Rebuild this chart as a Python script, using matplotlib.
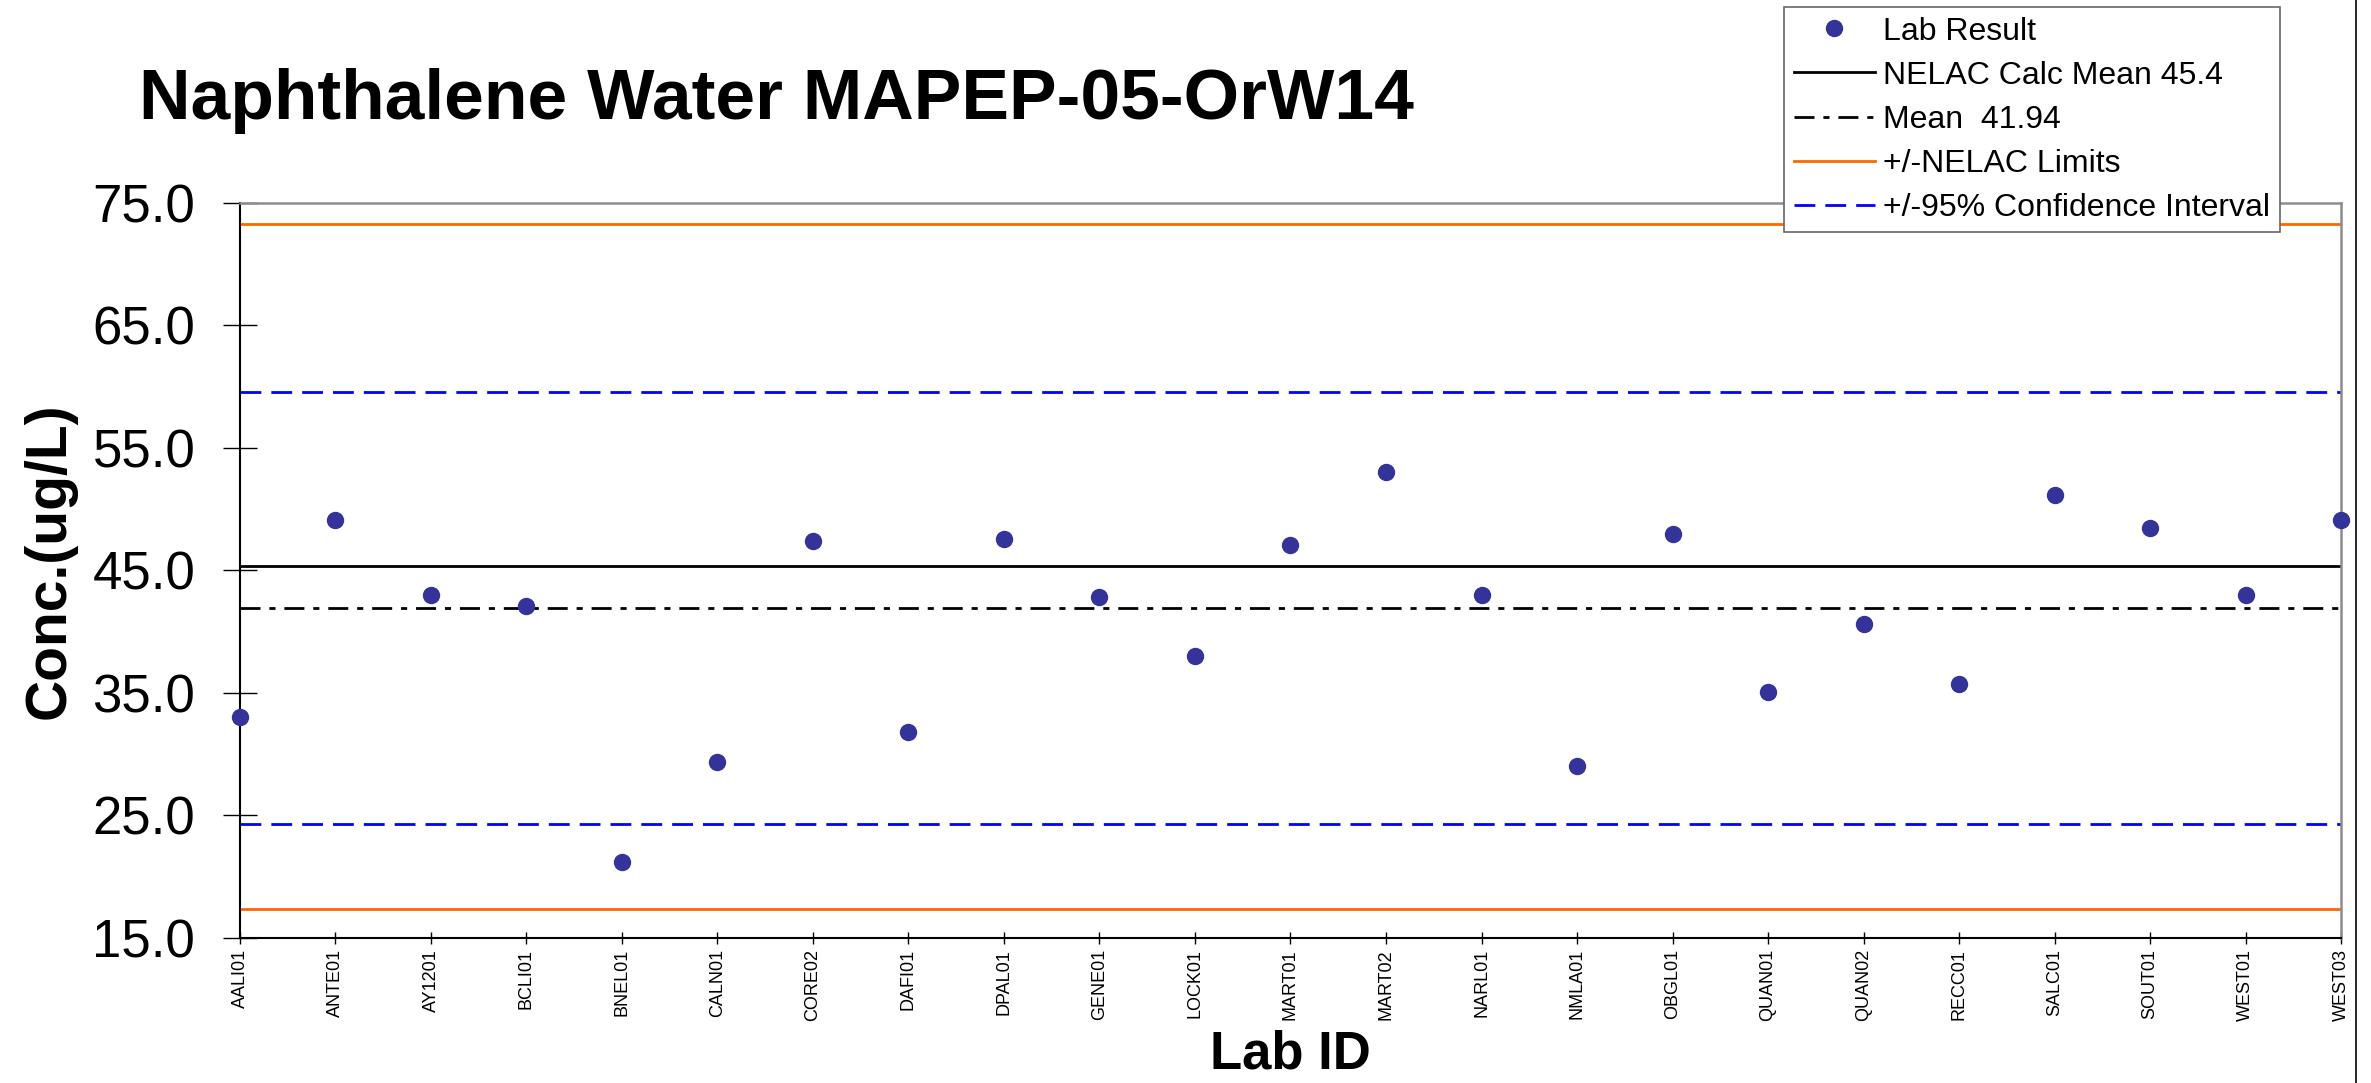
import matplotlib.pyplot as plt
from matplotlib.lines import Line2D

# Datos
lab_ids = ["AALI01", "ANTE01", "AY1201", "BCLI01", "BNEL01", "CALN01",
           "CORE02", "DAFI01", "DPAL01", "GENE01", "LOCK01", "MART01",
           "MART02", "NARL01", "NMLA01", "OBGL01", "QUAN01", "QUAN02",
           "RECC01", "SALC01", "SOUT01", "WEST01", "WEST03"]
lab_results = [33.0, 49.1, 43.0, 42.1, 21.2, 29.4,
               47.4, 31.8, 47.6, 42.8, 38.0, 47.1,
               53.0, 43.0, 29.0, 48.0, 35.1, 40.6,
               35.7, 51.2, 48.5, 43.0, 49.1]
nelac_mean = 45.4
mean_value = 41.94
nelac_limits = [17.4, 73.3]
confidence_limits = [24.34, 59.54]
y_ticks = [15, 25, 35, 45, 55, 65, 75]

parameters = {
    "title": "Naphthalene Water MAPEP-05-OrW14",
    "marker color": "#333399",
    "orange": "#ff6600",
    "blue": "#0000ff",
    "frame gray": "#8c8c8c",
    "marker size": 11.5,
}

plt.rcParams["font.family"] = ["Liberation Sans", "DejaVu Sans"]

fig = plt.figure(figsize=(23.71, 10.83), dpi=100)
ax = fig.add_axes([0.10122, 0.13389, 0.88613, 0.67867])
positions = list(range(len(lab_ids)))

# lineas de referencia
ax.axhline(nelac_limits[0], color=parameters["orange"], lw=2, zorder=2)
ax.axhline(nelac_limits[1], color=parameters["orange"], lw=2, zorder=2)
ax.axhline(confidence_limits[0], color=parameters["blue"], lw=2,
           ls=(0, (7.5, 3.6)), zorder=2)
ax.axhline(confidence_limits[1], color=parameters["blue"], lw=2,
           ls=(0, (7.5, 3.6)), zorder=2)
ax.axhline(nelac_mean, color="black", lw=2, zorder=2)
ax.axhline(mean_value, color="black", lw=2,
           ls=(0, (7.2, 3.2, 2.2, 3.2)), zorder=2)
ax.plot(positions, lab_results, ls="none", marker="o",
        ms=parameters["marker size"],
        color=parameters["marker color"], mec=parameters["marker color"],
        zorder=4, clip_on=False)

ax.set_xlim(0, len(lab_ids) - 1)
ax.set_ylim(15, 75)
ax.set_yticks(y_ticks)
ax.set_yticklabels(["{:.1f}".format(tick) for tick in y_ticks], fontsize=38)
ax.set_xticks(positions)
ax.set_xticklabels(lab_ids, rotation=90, fontsize=13,
                   family=["Liberation Sans Narrow", "Liberation Sans"])
ax.tick_params(axis="y", direction="inout", length=24.5, width=1,
               pad=20)
ax.tick_params(axis="x", direction="inout", length=8, width=1, pad=4)

for side in ["top", "right"]:
    ax.spines[side].set_color(parameters["frame gray"])
    ax.spines[side].set_linewidth(1.8)
for side in ["left", "bottom"]:
    ax.spines[side].set_color("black")
    ax.spines[side].set_linewidth(1.5)

ax.set_ylabel("Conc.(ug/L)", fontsize=41, fontweight="bold", va="center")
ax.yaxis.set_label_coords(-0.0904, 0.514)
ax.set_xlabel("Lab ID", fontsize=38, fontweight="bold", va="center")
ax.xaxis.set_label_coords(0.5, -0.158)

fig.text(139 / 2371, 1 - 101 / 1083, parameters["title"], fontsize=51.4,
         fontweight="bold", ha="left", va="center")

handles = [
    Line2D([], [], ls="none", marker="o", ms=parameters["marker size"],
           color=parameters["marker color"]),
    Line2D([], [], color="black", lw=2),
    Line2D([], [], color="black", lw=2, ls=(0, (7.2, 3.2, 2.2, 3.2))),
    Line2D([], [], color=parameters["orange"], lw=2),
    Line2D([], [], color=parameters["blue"], lw=2, ls=(0, (7.5, 3.6))),
]
labels = ["Lab Result",
          "NELAC Calc Mean {}".format(nelac_mean),
          "Mean  {}".format(mean_value),
          "+/-NELAC Limits",
          "+/-95% Confidence Interval"]
legend = fig.legend(handles, labels, loc="upper left",
                    bbox_to_anchor=(1784 / 2371, 1 - 7 / 1083),
                    fontsize=23, frameon=True, fancybox=False,
                    framealpha=1, edgecolor="#666666", borderpad=0.3,
                    handlelength=2.56, handletextpad=0.25,
                    labelspacing=0.44, borderaxespad=0)
legend.get_frame().set_linewidth(1.2)
legend.set_zorder(10)

# borde derecho de la imagen
fig.add_artist(Line2D([2356 / 2371, 2356 / 2371], [0, 1],
                      transform=fig.transFigure, color="black", lw=1.2))

plt.savefig("out.png", dpi=100)
